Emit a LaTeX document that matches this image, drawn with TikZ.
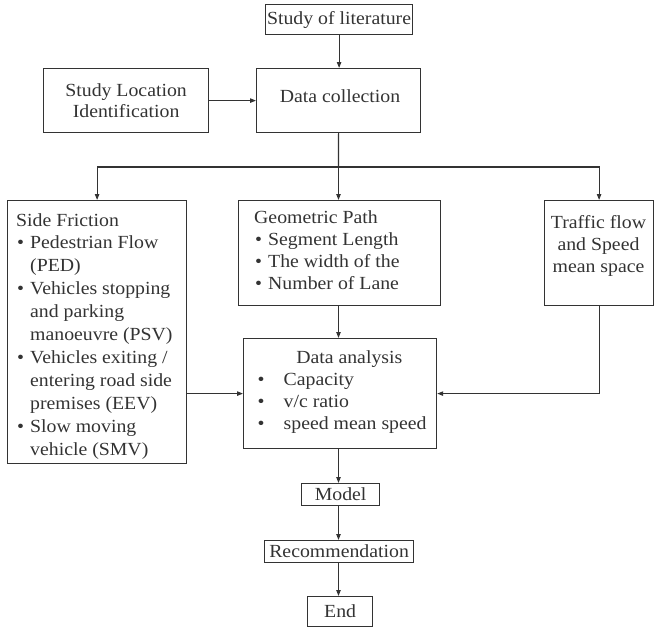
\documentclass[tikz,border=0pt]{standalone}
\usepackage{fontspec}
\setmainfont{Liberation Serif}[FakeStretch=1.07]
\usetikzlibrary{arrows.meta}
\definecolor{ink}{HTML}{333333}
\newcommand\fsz{\fontsize{18.5}{22}\selectfont}
\newcommand\bul{\makebox[14pt][l]{\hspace{1pt}\textbullet}}
\newcommand\ind{\hspace*{14pt}}
\newcommand\dbul{\makebox[26pt][l]{\textbullet}}
\begin{document}
\begin{tikzpicture}[x=1pt,y=-1pt,
  box/.style={draw=ink, line width=1.2pt, inner sep=0, anchor=north west, text=ink, font=\fsz, align=center},
  txt/.style={text=ink, inner sep=0, font=\fsz},
  ln/.style={draw=ink, line width=1.2pt},
  conn/.style={draw=ink, line width=1.2pt, -{Triangle[length=6pt,width=4.4pt]}}]
\useasboundingbox (0,0) rectangle (654,627);
% boxes
\node[box, minimum width=147pt, minimum height=30pt] (lit) at (265,4) {Study of literature};
\node[box, minimum width=165pt, minimum height=64pt, font=\fontsize{18.5}{21}\selectfont] (loc) at (43,68) {Study Location\\Identification};
\node[box, minimum width=164pt, minimum height=64pt] (dc) at (256,68) {};
\node[txt] (dct) at (340,96) {Data collection};
\node[box, minimum width=179pt, minimum height=263pt] (sf) at (7,200) {};
\node[box, minimum width=202pt, minimum height=105pt] (gp) at (238,200) {};
\node[box, minimum width=109pt, minimum height=105pt] (tf) at (544,200) {};
\node[box, minimum width=193pt, minimum height=110pt] (da) at (243,338) {};
\node[box, minimum width=78pt, minimum height=22pt] (model) at (301,483) {Model};
\node[box, minimum width=149pt, minimum height=22pt] (rec) at (264,540) {Recommendation};
\node[box, minimum width=65pt, minimum height=30pt] (end) at (307,596) {End};
% texts
\node[txt, anchor=base west] (sft) at (16,226) {\parbox[t]{175pt}{\raggedright\fsz\setlength{\baselineskip}{22.9pt}%
Side Friction\\
\bul Pedestrian Flow\\
\ind (PED)\\
\bul Vehicles stopping\\
\ind and parking\\
\ind manoeuvre (PSV)\\
\bul Vehicles exiting /\\
\ind entering road side\\
\ind premises (EEV)\\
\bul Slow moving\\
\ind vehicle (SMV)}};
\node[txt, anchor=base west] (gpt) at (254,223.3) {\parbox[t]{185pt}{\raggedright\fsz\setlength{\baselineskip}{22pt}%
Geometric Path\\
\bul Segment Length\\
\bul The width of the\\
\bul Number of Lane}};
\node[txt, anchor=base] (tft) at (598.5,228.3) {\parbox[t]{108pt}{\centering\fsz\setlength{\baselineskip}{22pt}%
Traffic flow\\
and Speed\\
mean space}};
\node[txt, anchor=base] (dat) at (349.3,363.3) {Data analysis};
\node[txt, anchor=base west] (dab) at (257.5,385.3) {\parbox[t]{175pt}{\raggedright\fsz\setlength{\baselineskip}{22.3pt}%
\dbul Capacity\\
\dbul v/c ratio\\
\dbul speed mean speed}};
% connectors
\coordinate (br) at (338.5,167);
\draw[conn] (lit.south) -- (lit.south |- dc.north);
\draw[conn] (loc) -- (dc);
\draw[ln] (dc.south) -- (br);
\draw[conn] (br) -| (sf.north);
\draw[conn] (br) -| (tf.north);
\draw[conn] (br) -- (br |- gp.north);
\draw[conn] (gp.south -| br) -- (br |- da.north);
\draw[conn] (da.west -| sf.east) -- (da.west);
\draw[conn] (tf.south) |- (da.east);
\draw[conn] (da.south -| br) -- (br |- model.north);
\draw[conn] (model.south -| br) -- (br |- rec.north);
\draw[conn] (rec.south -| br) -- (br |- end.north);
\end{tikzpicture}
\end{document}
